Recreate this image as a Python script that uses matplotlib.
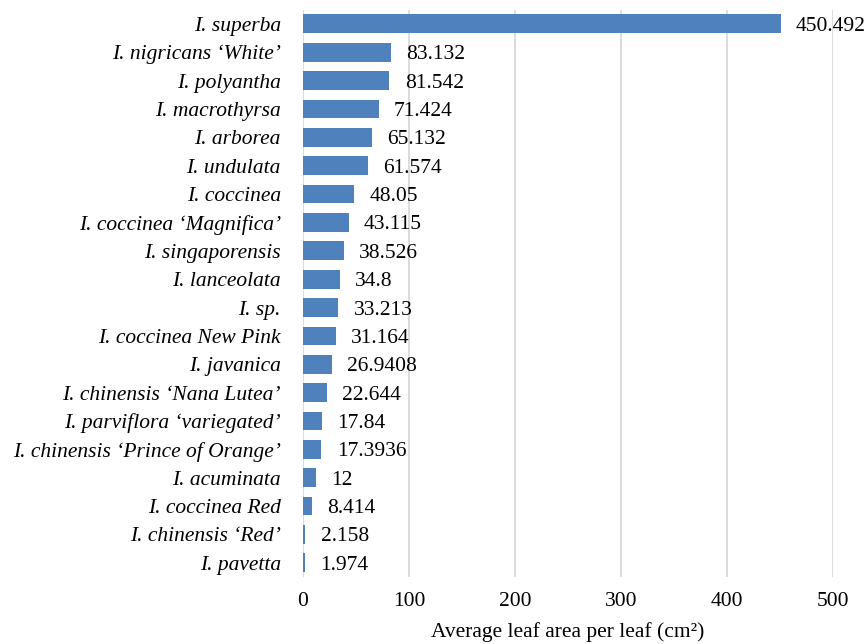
from matplotlib import pyplot as plt

# species, top to bottom as in the chart
species = ["I. superba", "I. nigricans \u2018White\u2019", "I. polyantha",
           "I. macrothyrsa", "I. arborea", "I. undulata", "I. coccinea",
           "I. coccinea \u2018Magnifica\u2019", "I. singaporensis",
           "I. lanceolata", "I. sp.", "I. coccinea New Pink", "I. javanica",
           "I. chinensis \u2018Nana Lutea\u2019",
           "I. parviflora \u2018variegated\u2019",
           "I. chinensis \u2018Prince of Orange\u2019", "I. acuminata",
           "I. coccinea Red", "I. chinensis \u2018Red\u2019", "I. pavetta"]
leaf_area = [450.492, 83.132, 81.542, 71.424, 65.132, 61.574, 48.05,
             43.115, 38.526, 34.8, 33.213, 31.164, 26.9408, 22.644, 17.84,
             17.3936, 12, 8.414, 2.158, 1.974]
value_labels = ["450.492", "83.132", "81.542", "71.424", "65.132", "61.574",
                "48.05", "43.115", "38.526", "34.8", "33.213", "31.164",
                "26.9408", "22.644", "17.84", "17.3936", "12", "8.414",
                "2.158", "1.974"]
x_ticks = [0, 100, 200, 300, 400, 500]

plt.rcParams['font.family'] = ['Liberation Serif', 'DejaVu Serif']
plt.rcParams['font.size'] = 15.5

fig = plt.figure(figsize=(8.67, 6.44), dpi=100)
ax = fig.add_axes([0.3495, 0.104, 0.6115, 0.881])

# reverse so that the first species sits on top
pos = list(range(len(species)))[::-1]
ax.barh(pos, leaf_area, height=0.66, color='#4F81BD', zorder=3)

# value labels just right of each bar
for p, v, lab in zip(pos, leaf_area, value_labels):
    ax.annotate(lab, (v, p), xytext=(11, 0), textcoords='offset points',
                va='center_baseline', ha='left', color='#000000')

ax.set_yticks(pos)
ax.set_yticklabels(species, fontstyle='italic')
ax.set_ylim(-0.5, len(species) - 0.5)
ax.set_xlim(0, 500)
ax.set_xticks(x_ticks)
ax.tick_params(length=0)
ax.tick_params(axis='y', pad=16)
ax.tick_params(axis='x', pad=11)
ax.grid(axis='x', color='#D9D9D9', linewidth=1.3, zorder=0)
for s in ax.spines.values():
    s.set_visible(False)

ax.set_xlabel("Average leaf area per leaf (cm\u00b2)", labelpad=8)

fig.savefig('out.png', dpi=100)
